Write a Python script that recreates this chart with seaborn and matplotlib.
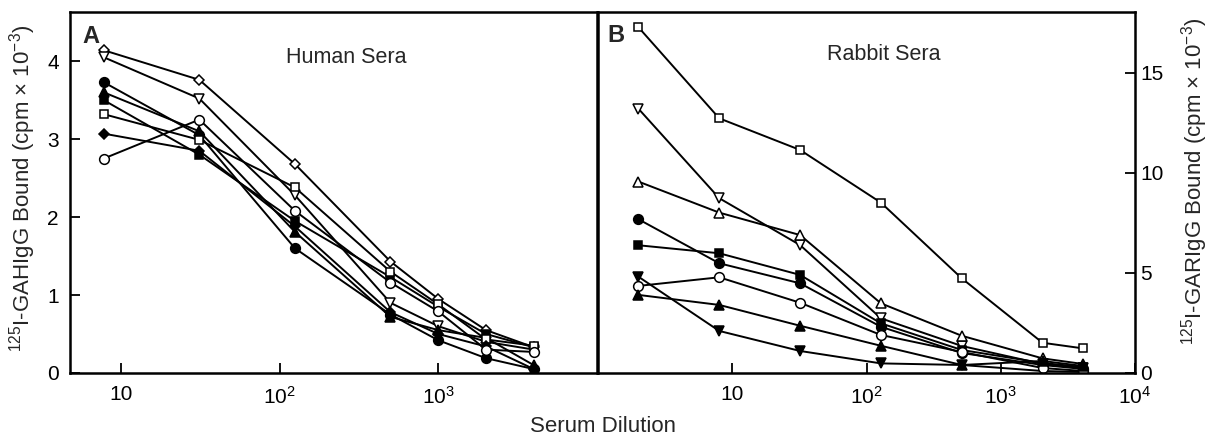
import matplotlib
matplotlib.use("Agg")
import matplotlib.pyplot as plt
import pandas as pd
import seaborn as sns

# ---------------- data ----------------
human_dilution = [7.8, 31.25, 125, 500, 1000, 2000, 4000]
human_open_diamond = [4.14, 3.76, 2.68, 1.43, 0.95, 0.55, 0.33]
human_open_down_tri = [4.05, 3.52, 2.28, 0.90, 0.60, 0.40, 0.30]
human_filled_circle = [3.73, 3.05, 1.60, 0.75, 0.42, 0.19, 0.05]
human_filled_up_tri = [3.60, 3.10, 1.81, 0.72, 0.55, 0.45, 0.10]
human_filled_square = [3.50, 2.80, 1.95, 1.23, 0.85, 0.50, 0.33]
human_open_square = [3.32, 2.99, 2.38, 1.30, 0.88, 0.43, 0.35]
human_filled_diamond = [3.07, 2.85, 1.88, 0.78, 0.50, 0.34, 0.05]
human_open_circle = [2.75, 3.25, 2.08, 1.16, 0.79, 0.30, 0.27]

rabbit_dilution = [2, 8, 32, 128, 512, 2048, 4096]
rabbit_open_square = [17.27, 12.72, 11.14, 8.51, 4.73, 1.51, 1.23]
rabbit_open_down_tri = [13.2, 8.73, 6.39, 2.73, 1.35, 0.45, 0.25]
rabbit_open_up_tri = [9.56, 8.01, 6.89, 3.48, 1.86, 0.73, 0.45]
rabbit_filled_circle = [7.68, 5.48, 4.48, 2.31, 1.00, 0.40, 0.20]
rabbit_filled_square = [6.38, 5.98, 4.90, 2.48, 1.15, 0.50, 0.30]
rabbit_filled_down_tri = [4.81, 2.10, 1.10, 0.48, 0.40, 0.10, 0.05]
rabbit_open_circle = [4.35, 4.78, 3.51, 1.90, 1.05, 0.25, 0.10]
rabbit_filled_up_tri = [3.90, 3.40, 2.36, 1.36, 0.40, 0.60, 0.35]

human_ticks = [10, 100, 1000]
human_tick_labels = ["10", r"$\mathregular{10^2}$", r"$\mathregular{10^3}$"]
rabbit_ticks = [10, 100, 1000, 10000]
rabbit_tick_labels = ["10", r"$\mathregular{10^2}$", r"$\mathregular{10^3}$",
                      r"$\mathregular{10^4}$"]
human_yticks = [0, 1, 2, 3, 4]
rabbit_yticks = [0, 5, 10, 15]

human_series = {
    "open_diamond": human_open_diamond,
    "open_down_tri": human_open_down_tri,
    "filled_circle": human_filled_circle,
    "filled_up_tri": human_filled_up_tri,
    "filled_square": human_filled_square,
    "open_square": human_open_square,
    "filled_diamond": human_filled_diamond,
    "open_circle": human_open_circle,
}
rabbit_series = {
    "open_square": rabbit_open_square,
    "open_down_tri": rabbit_open_down_tri,
    "open_up_tri": rabbit_open_up_tri,
    "filled_circle": rabbit_filled_circle,
    "filled_square": rabbit_filled_square,
    "filled_down_tri": rabbit_filled_down_tri,
    "open_circle": rabbit_open_circle,
    "filled_up_tri": rabbit_filled_up_tri,
}

# ---------------- styles ----------------
marker_shape = {"diamond": "D", "down_tri": "v", "up_tri": "^",
                "circle": "o", "square": "s"}
marker_size = {"D": 5.6, "v": 7.0, "^": 7.0, "o": 7.0, "s": 6.4}

sns.set_style("ticks")
plt.rcParams["font.family"] = ["Liberation Sans", "DejaVu Sans"]
plt.rcParams["mathtext.fontset"] = "custom"
plt.rcParams["mathtext.rm"] = "Liberation Sans"
plt.rcParams["mathtext.it"] = "Liberation Sans:italic"
plt.rcParams["mathtext.bf"] = "Liberation Sans:bold"

W, H = 1210, 438
fig = plt.figure(figsize=(W / 100, H / 100), dpi=100)
axA = fig.add_axes([70 / W, 65 / H, 527 / W, 361 / H])
axB = fig.add_axes([598 / W, 65 / H, 537 / W, 361 / H])


def draw(ax, dil, series):
    for name, vals in series.items():
        fill, shape = name.split("_", 1)
        m = marker_shape[shape]
        df = pd.DataFrame({"dilution": dil, "bound": vals})
        sns.lineplot(data=df, x="dilution", y="bound", ax=ax, color="black",
                     linewidth=1.4, marker=m, markersize=marker_size[m],
                     markerfacecolor="black" if fill == "filled" else "white",
                     markeredgecolor="black", markeredgewidth=1.1,
                     estimator=None, sort=False, legend=False)


draw(axA, human_dilution, human_series)
draw(axB, rabbit_dilution, rabbit_series)

for ax in (axA, axB):
    ax.set_xscale("log")
    ax.set_xlabel("")
    ax.set_ylabel("")
    for s in ax.spines.values():
        s.set_visible(True)
        s.set_linewidth(1.8)
        s.set_color("black")
    ax.xaxis.set_minor_locator(matplotlib.ticker.NullLocator())
    ax.tick_params(axis="both", direction="in", length=7, width=1.3,
                   labelsize=15, colors="black")
    ax.tick_params(axis="x", pad=9)

axA.set_xlim(10 ** 0.68, 10 ** 4)
axA.set_ylim(0, 4.63)
axA.set_xticks(human_ticks)
axA.set_xticklabels(human_tick_labels)
axA.set_yticks(human_yticks)
axA.tick_params(axis="y", left=True, right=False, pad=8)

axB.set_xlim(1, 10 ** 4)
axB.set_ylim(0, 18.03)
axB.set_xticks(rabbit_ticks)
axB.set_xticklabels(rabbit_tick_labels)
axB.set_yticks(rabbit_yticks)
axB.yaxis.tick_right()
axB.tick_params(axis="y", direction="in", left=False, right=True,
                labelleft=False, labelright=True, length=7, width=1.3,
                labelsize=15, pad=4)

axA.text(0.024, 0.965, "A", transform=axA.transAxes, fontsize=17,
         fontweight="bold", va="top", ha="left")
axB.text(0.017, 0.967, "B", transform=axB.transAxes, fontsize=17,
         fontweight="bold", va="top", ha="left")
axA.text(0.524, 0.875, "Human Sera", transform=axA.transAxes, fontsize=15.5,
         ha="center", va="center")
axB.text(0.533, 0.881, "Rabbit Sera", transform=axB.transAxes, fontsize=15.5,
         ha="center", va="center")

fig.text(23 / W, 1 - 188 / H,
         r"$\mathregular{^{125}}$I-GAHIgG Bound (cpm × 10$\mathregular{^{-3}}$)",
         rotation=90, ha="center", va="center", fontsize=16)
fig.text(1195 / W, 1 - 181 / H,
         r"$\mathregular{^{125}}$I-GARIgG Bound (cpm × 10$\mathregular{^{-3}}$)",
         rotation=90, ha="center", va="center", fontsize=16)
fig.text(603 / W, 1 - 427 / H, "Serum Dilution", ha="center", va="center",
         fontsize=16)

fig.savefig("out.png", dpi=100)
